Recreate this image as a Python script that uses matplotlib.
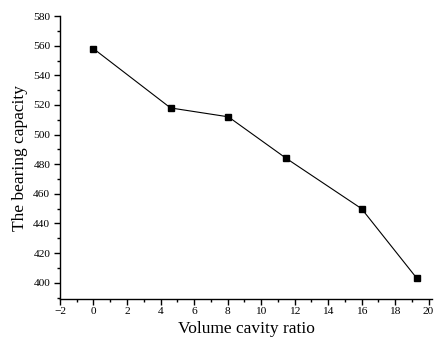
import numpy as np
import matplotlib
matplotlib.use('Agg')
import matplotlib.pyplot as plt
from matplotlib.ticker import MultipleLocator

# volume cavity ratio and bearing capacity
ratio = [0, 4.6, 8.05, 11.5, 16.0, 19.3]
capacity = [558, 518, 512, 484, 450, 403]

plt.rcParams['font.family'] = 'Liberation Serif'

fig = plt.figure(figsize=(4.36, 3.45), dpi=100)
ax = fig.add_axes([0.1376, 0.1333, 0.853, 0.820])

ax.plot(ratio, capacity, c='k', lw=0.8, marker='s', ms=4.8)

ax.set_xlim(-2, 20.2)
ax.set_ylim(389, 580)
ax.xaxis.set_major_locator(MultipleLocator(2))
ax.xaxis.set_minor_locator(MultipleLocator(1))
ax.yaxis.set_major_locator(MultipleLocator(20))
ax.yaxis.set_minor_locator(MultipleLocator(10))

for s in ['top', 'right']:
    ax.spines[s].set_visible(False)
for s in ['left', 'bottom']:
    ax.spines[s].set_linewidth(1.0)

ax.tick_params(which='major', direction='out', length=4, width=1, labelsize=8.2)
ax.tick_params(which='minor', direction='out', length=2.5, width=1)
ax.tick_params(axis='x', which='major', pad=1.5)
ax.tick_params(axis='y', which='major', pad=3)

ax.set_xlabel('Volume cavity ratio', fontsize=12.5, labelpad=4)
ax.set_ylabel('The bearing capacity', fontsize=12.5, labelpad=4)

fig.savefig('out.png', dpi=100)
